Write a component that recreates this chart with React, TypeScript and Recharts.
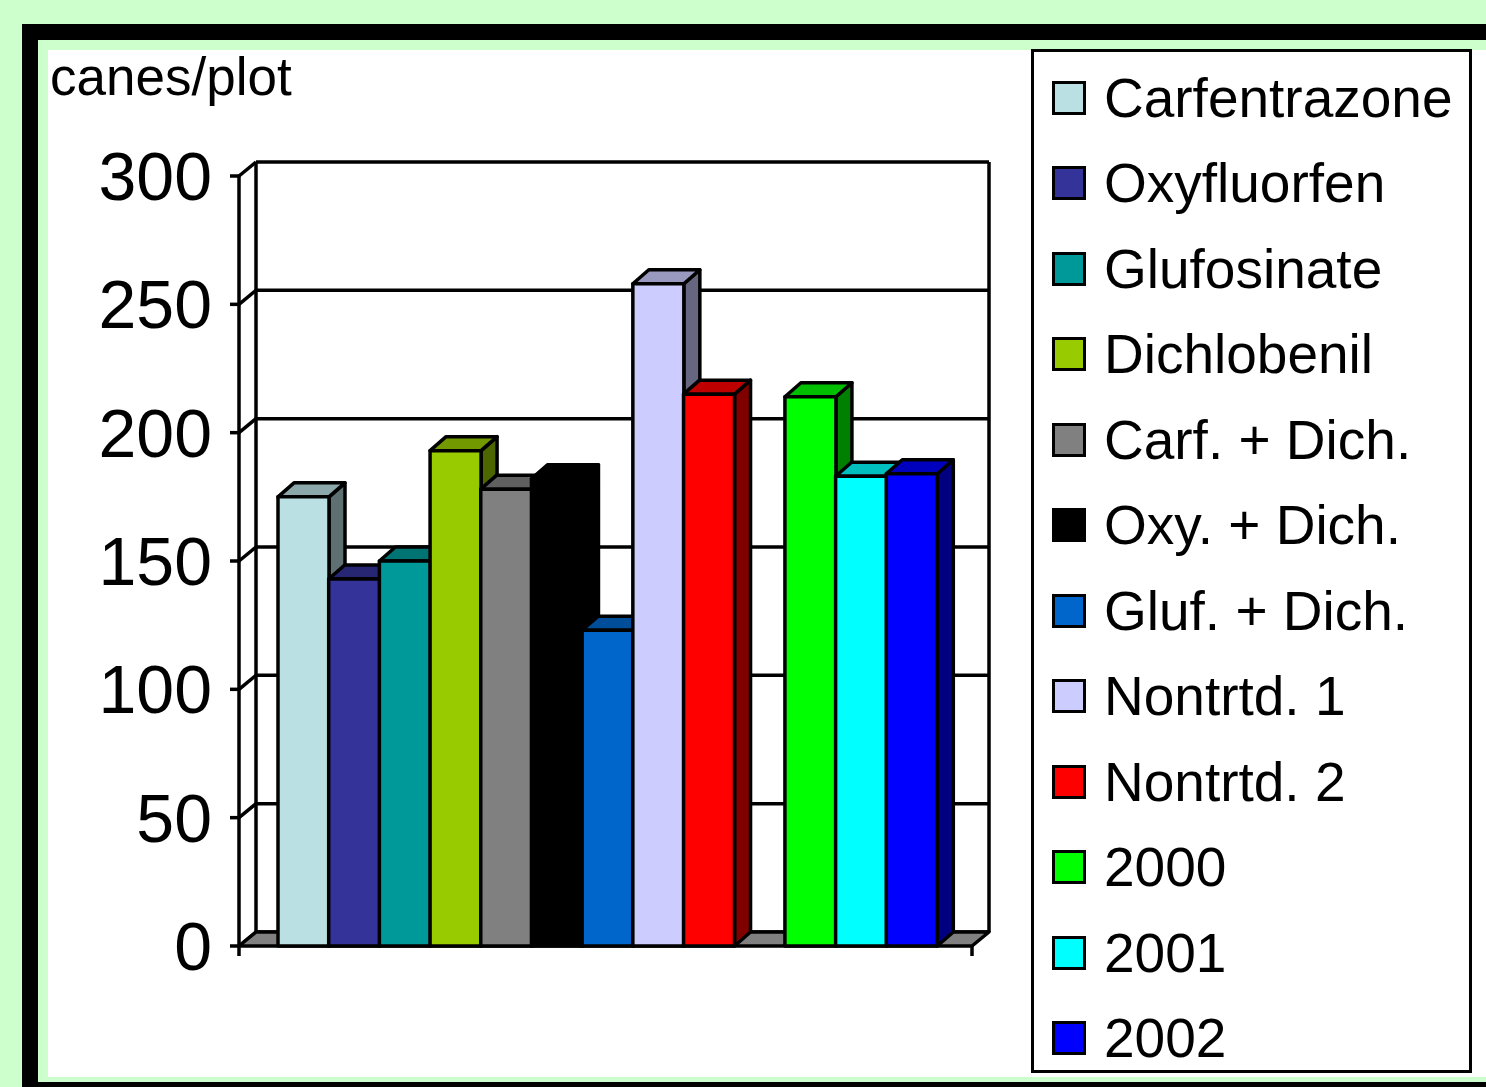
import React from "react";
import {
  BarChart,
  Bar,
  Cell,
  XAxis,
  YAxis,
  CartesianGrid,
  usePlotArea,
} from "recharts";

const seriesNames = [
  "Carfentrazone",
  "Oxyfluorfen",
  "Glufosinate",
  "Dichlobenil",
  "Carf. + Dich.",
  "Oxy. + Dich.",
  "Gluf. + Dich.",
  "Nontrtd. 1",
  "Nontrtd. 2",
  "2000",
  "2001",
  "2002",
];
const seriesValues = [175, 143, 150, 193, 178, 182, 123, 258, 215, 214, 183, 184];
const seriesColors = [
  "#BBE0E3",
  "#333399",
  "#009999",
  "#99CC00",
  "#808080",
  "#000000",
  "#0066CC",
  "#CCCCFF",
  "#FF0000",
  "#00FF00",
  "#00FFFF",
  "#0000FF",
];
const yTicks = [0, 50, 100, 150, 200, 250, 300];
// empty slot between the treatments and the years
const gapAfter = "Nontrtd. 2";

const data: { name: string; value: number | null; series: number }[] = [];
seriesNames.forEach((name, i) => {
  data.push({ name, value: seriesValues[i], series: i });
  if (name === gapAfter) data.push({ name: "gap", value: null, series: -1 });
});

const FONT = "'Liberation Sans', Arial, sans-serif";
const BAR_DX = 16;
const BAR_DY = -14;
const WALL_DX = 17;
const WALL_DY = -14;
const LINE_W = 3.5;

function shade(hex: string, k: number) {
  const n = parseInt(hex.slice(1), 16);
  const r = Math.round(((n >> 16) & 255) * k);
  const g = Math.round(((n >> 8) & 255) * k);
  const b = Math.round((n & 255) * k);
  return `rgb(${r},${g},${b})`;
}

function Box3D(props: any) {
  const { x, y, width, height, fill, value } = props;
  if (value == null || !width || height == null) return null;
  const r = x + width;
  const bot = y + height;
  const st = { stroke: "#000", strokeWidth: LINE_W, strokeLinejoin: "round" as const };
  return (
    <g>
      <polygon
        points={`${r},${y} ${r + BAR_DX},${y + BAR_DY} ${r + BAR_DX},${bot + BAR_DY} ${r},${bot}`}
        fill={shade(fill, 0.5)}
        {...st}
      />
      <polygon
        points={`${x},${y} ${x + BAR_DX},${y + BAR_DY} ${r + BAR_DX},${y + BAR_DY} ${r},${y}`}
        fill={shade(fill, 0.75)}
        {...st}
      />
      <rect x={x} y={y} width={width} height={height} fill={fill} {...st} />
    </g>
  );
}

function Walls() {
  const area = usePlotArea();
  if (!area) return null;
  const l = area.x;
  const r = area.x + area.width;
  const t = area.y;
  const b = area.y + area.height;
  const st = { stroke: "#000", strokeWidth: LINE_W };
  return (
    <g>
      <polygon
        points={`${l},${b} ${l + WALL_DX},${b + WALL_DY} ${r + WALL_DX},${b + WALL_DY} ${r},${b}`}
        fill="#808080"
        strokeLinejoin="round"
        {...st}
      />
      <line x1={l + WALL_DX} y1={t + WALL_DY} x2={l + WALL_DX} y2={b + WALL_DY} {...st} />
      <line x1={r + WALL_DX} y1={t + WALL_DY} x2={r + WALL_DX} y2={b + WALL_DY} {...st} />
      <line x1={l} y1={b} x2={l} y2={b + 10} {...st} />
      <line x1={r} y1={b} x2={r} y2={b + 10} {...st} />
    </g>
  );
}

const gridLine = (p: any) => (
  <g key={p.key}>
    <line x1={p.x1} y1={p.y1} x2={p.x1 + WALL_DX} y2={p.y1 + WALL_DY} stroke="#000" strokeWidth={LINE_W} />
    <line
      x1={p.x1 + WALL_DX}
      y1={p.y1 + WALL_DY}
      x2={p.x2 + WALL_DX}
      y2={p.y2 + WALL_DY}
      stroke="#000"
      strokeWidth={LINE_W}
    />
  </g>
);

export default function App() {
  return (
    <div
      style={{
        position: "fixed",
        left: 0,
        top: 0,
        width: 1486,
        height: 1087,
        overflow: "hidden",
        background: "#CCFFCC",
        fontFamily: FONT,
      }}
    >
      <div
        style={{
          position: "absolute",
          left: 22,
          top: 24,
          width: 1600,
          height: 1042,
          border: "16px solid #000",
          background: "#CCFFCC",
        }}
      />
      <div
        style={{
          position: "absolute",
          left: 48,
          top: 50,
          width: 1500,
          height: 1027,
          background: "#fff",
        }}
      />
      <div
        style={{
          position: "absolute",
          left: 50,
          top: 50,
          fontSize: 53,
          lineHeight: 1,
          color: "#000",
        }}
      >
        canes/plot
      </div>

      <div style={{ position: "absolute", left: 0, top: 0 }}>
        <BarChart
          width={1486}
          height={1087}
          data={data}
          margin={{ top: 176, right: 514, bottom: 141, left: 0 }}
          barCategoryGap={0}
        >
          <CartesianGrid horizontal={gridLine} vertical={false} />
          <Walls />
          <XAxis
            dataKey="name"
            tick={false}
            tickLine={false}
            axisLine={{ stroke: "#000", strokeWidth: LINE_W }}
            padding={{ left: 39, right: 35 }}
            height={0}
          />
          <YAxis
            domain={[0, 300]}
            ticks={yTicks}
            width={239}
            tickSize={9}
            tickMargin={18}
            axisLine={{ stroke: "#000", strokeWidth: LINE_W }}
            tickLine={{ stroke: "#000", strokeWidth: LINE_W }}
            tick={{ fontSize: 68, fill: "#000", fontFamily: FONT }}
          />
          <Bar dataKey="value" shape={<Box3D />} isAnimationActive={false}>
            {data.map((d) => (
              <Cell key={d.name} fill={d.series >= 0 ? seriesColors[d.series] : "none"} />
            ))}
          </Bar>
        </BarChart>
      </div>

      <div
        style={{
          position: "absolute",
          left: 1031,
          top: 49,
          width: 435,
          height: 1015,
          border: "3px solid #000",
          background: "#fff",
          paddingTop: 3,
          boxSizing: "content-box",
        }}
      >
        {seriesNames.map((name, i) => (
          <div
            key={name}
            style={{
              height: 85.5,
              display: "flex",
              alignItems: "center",
              fontSize: 55,
              color: "#000",
            }}
          >
            <div
              style={{
                width: 28,
                height: 28,
                marginLeft: 18,
                marginRight: 18,
                border: "3px solid #000",
                background: seriesColors[i],
                flexShrink: 0,
              }}
            />
            <span style={{ whiteSpace: "nowrap" }}>{name}</span>
          </div>
        ))}
      </div>
    </div>
  );
}
